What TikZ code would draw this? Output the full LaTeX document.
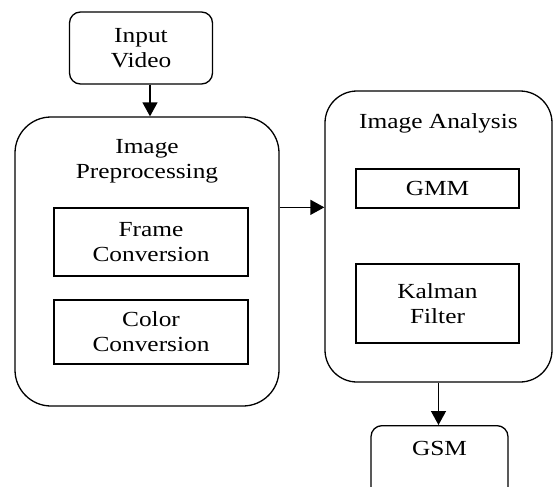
\documentclass[tikz,border=0pt]{standalone}
\usepackage{fontspec}
\setmainfont{Liberation Serif}[FakeStretch=1.18]
\usetikzlibrary{arrows.meta}
\begin{document}
\begin{tikzpicture}[x=1pt,y=-1pt,
  every node/.style={font=\fontsize{21.5}{25}\selectfont, align=center, inner sep=0pt},
  rbox/.style={draw, line width=1.3pt},
  sbox/.style={draw, line width=1.3pt},
  arr/.style={line width=1.3pt, -{Triangle[length=14pt,width=15pt]}}]
\useasboundingbox (0,0) rectangle (554,487);
\clip (0,0) rectangle (554,487);
\node[rbox, rounded corners=11pt, minimum width=143pt, minimum height=72pt] (inp) at (141,48) {Input\\Video};
\node[rbox, rounded corners=36pt, minimum width=264pt, minimum height=289pt] (pre) at (147,261.5) {};
\node (pret) at (147,161) {Image\\Preprocessing};
\node[sbox, minimum width=194pt, minimum height=68pt] (frame) at (151,242) {Frame\\Conversion};
\node[sbox, minimum width=194pt, minimum height=64pt] (color) at (151,332) {Color\\Conversion};
\node[rbox, rounded corners=32pt, minimum width=227pt, minimum height=291pt] (ana) at (438.5,236.5) {};
\node (anat) at (438.5,123) {Image Analysis};
\node[sbox, minimum width=163pt, minimum height=39pt] (gmm) at (437.5,188.5) {GMM};
\node[sbox, minimum width=163pt, minimum height=79pt] (kal) at (437.5,303.5) {Kalman\\Filter};
\node[rbox, rounded corners=11pt, minimum width=137pt, minimum height=80pt, anchor=north] (gsm) at (439.5,425) {};
\node (gsmt) at (439.5,448) {GSM};
\draw[arr] ([xshift=9pt]inp.south) -- ([xshift=3pt]pre.north);
\draw[arr] (pre.east |- frame.north) -- (ana.west |- frame.north);
\draw[arr] (ana.south) -- (ana.south |- gsm.north);
\end{tikzpicture}
\end{document}
